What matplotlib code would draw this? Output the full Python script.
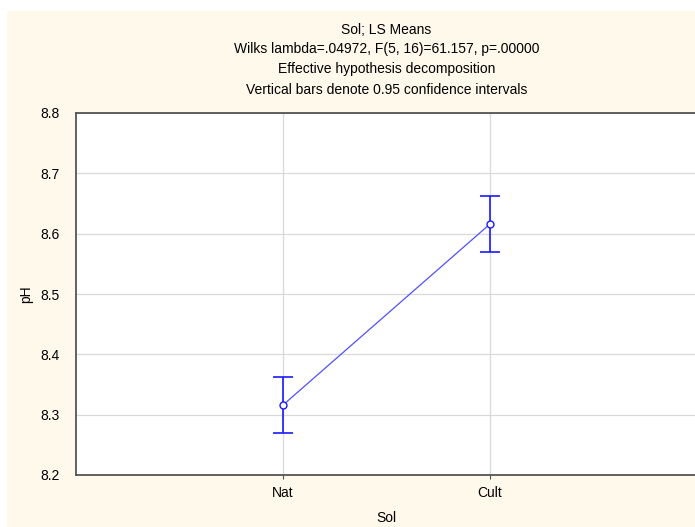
import matplotlib
matplotlib.use("Agg")
import matplotlib.pyplot as plt
from matplotlib.patches import Rectangle

categories = ["Nat", "Cult"]
means = [8.316, 8.616]
ci_half = [0.046, 0.046]
yticks = [8.2, 8.3, 8.4, 8.5, 8.6, 8.7, 8.8]
titles = ["Sol; LS Means",
          "Wilks lambda=.04972, F(5, 16)=61.157, p=.00000",
          "Effective hypothesis decomposition",
          "Vertical bars denote 0.95 confidence intervals"]

plt.rcParams['font.family'] = ['Liberation Sans', 'DejaVu Sans']

W, H = 695, 527
fig = plt.figure(figsize=(W/100, H/100), dpi=100, facecolor='white')
bg = Rectangle((7/W, 0), 1 - 7/W, (H - 11)/H, transform=fig.transFigure,
               facecolor='#fff9ec', edgecolor='none', zorder=-10)
fig.patches.append(bg)

ax = fig.add_axes([76/W, 1 - 475/H, (697-76)/W, (475-113)/H])
ax.set_facecolor('white')
x = list(range(len(categories)))
ax.plot(x, means, color='#5050ff', lw=0.9, zorder=3)
ax.errorbar(x, means, yerr=ci_half, fmt='none', ecolor='#1a1aff', elinewidth=1.2,
            capsize=7.5, capthick=1.2, zorder=4)
ax.plot(x, means, 'o', ms=5, mfc='white', mec='#1a1aff', mew=1.0, zorder=5)

ax.set_xlim(-1, 2)
ax.set_ylim(8.2, 8.8)
ax.set_xticks(x)
ax.set_xticklabels(categories, fontsize=10)
ax.set_yticks(yticks)
ax.set_yticklabels([f"{v:.1f}" for v in yticks], fontsize=10)
ax.grid(True, color='#d9d9d9', lw=0.9)
ax.set_axisbelow(True)
ax.tick_params(axis='x', length=3, color='#505050', pad=5)
ax.tick_params(axis='y', length=0, pad=12)
for s in ax.spines.values():
    s.set_color('#555555')
    s.set_linewidth(1.3)
ax.set_xlabel("Sol", fontsize=10, labelpad=8)
ax.set_ylabel("pH", fontsize=10, labelpad=5)

ys = [30, 49, 69, 90]
for t, yy in zip(titles, ys):
    fig.text((76 + 697) / 2 / W, 1 - yy / H, t, ha='center', va='center', fontsize=10)

fig.savefig("out.png", dpi=100, facecolor='white')
